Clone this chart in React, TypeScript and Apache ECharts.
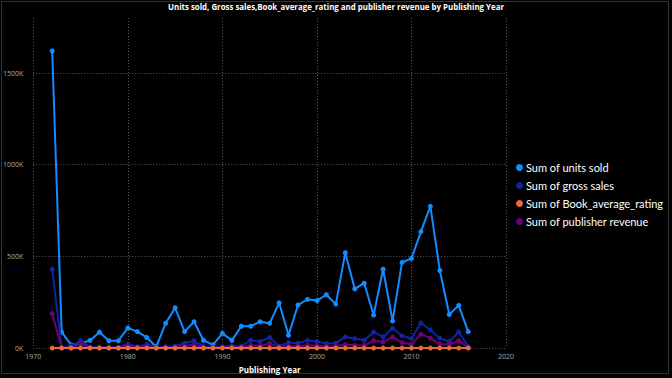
import React, { useEffect, useRef } from "react";
import * as echarts from "echarts";

const years: number[] = [
  1972, 1973, 1974, 1975, 1976, 1977, 1978, 1979, 1980, 1981,
  1982, 1983, 1984, 1985, 1986, 1987, 1988, 1989, 1990, 1991,
  1992, 1993, 1994, 1995, 1996, 1997, 1998, 1999, 2000, 2001,
  2002, 2003, 2004, 2005, 2006, 2007, 2008, 2009, 2010, 2011,
  2012, 2013, 2014, 2015, 2016,
];

const unitsSold: number[] = [
  1620000, 87000, 18000, 25000, 42000, 87000, 40000, 40000, 110000, 90000,
  58000, 7000, 135000, 220000, 90000, 144000, 43000, 18000, 80000, 42000,
  119000, 119000, 144000, 135000, 247000, 70000, 235000, 266000, 259000, 291000,
  240000, 520000, 323000, 354000, 180000, 430000, 148000, 467000, 489000, 635000,
  773000, 423000, 183000, 233000, 90000,
];

const grossSales: number[] = [
  430000, 3000, 12000, 40000, 6000, 5000, 4000, 5000, 22000, 8000,
  20000, 3000, 8000, 10000, 27000, 40000, 10000, 5000, 8000, 12000,
  10000, 43000, 36000, 58000, 10000, 30000, 27000, 42000, 36000, 25000,
  27000, 61000, 52000, 43000, 87000, 61000, 108000, 67000, 52000, 137000,
  99000, 54000, 36000, 88000, 8000,
];

const bookAvgRating: number[] = [
  4.1, 8.2, 3.9, 12.4, 8.0, 11.9, 7.8, 8.3, 24.6, 16.2,
  20.1, 4.0, 15.8, 19.7, 31.5, 35.9, 12.1, 8.0, 16.3, 20.2,
  24.0, 39.8, 44.1, 56.3, 28.2, 48.0, 52.4, 64.1, 60.3, 56.0,
  64.5, 96.2, 88.1, 92.7, 120.3, 112.5, 140.8, 128.1, 136.4, 180.2,
  176.9, 132.0, 104.6, 116.3, 24.1,
];

const publisherRevenue: number[] = [
  188000, 1000, 3000, 22000, 2000, 2000, 2000, 2000, 10000, 3000,
  8000, 1000, 3000, 4000, 12000, 18000, 4000, 2000, 3000, 5000,
  4000, 15000, 12000, 25000, 4000, 12000, 10000, 15000, 13000, 9000,
  10000, 20000, 16000, 14000, 40000, 33000, 60000, 30000, 20000, 76000,
  54000, 22000, 20000, 40000, 3000,
];

const seriesNames: string[] = [
  "Sum of units sold",
  "Sum of gross sales",
  "Sum of Book_average_rating",
  "Sum of publisher revenue",
];
const seriesColors: string[] = ["#118DFF", "#12239E", "#E66C37", "#6B007B"];
const seriesZ: number[] = [2, 3, 5, 4];

const titleText = "Units sold, Gross sales,Book_average_rating and publisher revenue by Publishing Year";
const xTicks: number[] = [1970, 2020, 10];
const yTicks: number[] = [0, 1800000, 500000];

export default function App() {
  const ref = useRef<HTMLDivElement>(null);

  useEffect(() => {
    if (!ref.current) return;
    const chart = echarts.init(ref.current, null, { renderer: "svg" });
    const allData = [unitsSold, grossSales, bookAvgRating, publisherRevenue];
    chart.setOption({
      animation: false,
      backgroundColor: "#000",
      legend: {
        orient: "vertical",
        left: 511,
        top: 156,
        itemWidth: 7,
        itemHeight: 7,
        itemGap: 5,
        icon: "circle",
        data: seriesNames,
        textStyle: {
          color: "#fff",
          fontSize: 11,
          lineHeight: 13,
          fontFamily: "Lato, 'Open Sans', sans-serif",
          padding: [0, 0, 0, -2],
        },
      },
      grid: { left: 33, right: 166, top: 18, bottom: 28, containLabel: false },
      xAxis: {
        type: "value",
        min: xTicks[0],
        max: xTicks[1],
        interval: xTicks[2],
        name: "Publishing Year",
        nameLocation: "middle",
        nameGap: 16,
        nameTextStyle: { color: "#fff", fontSize: 8, fontWeight: "bold", fontFamily: "'Open Sans', sans-serif" },
        axisLine: { show: false },
        axisTick: { show: false },
        axisLabel: {
          color: "#aaa",
          fontSize: 7,
          margin: 5,
          fontFamily: "'Open Sans', sans-serif",
          formatter: (v: number) => String(v),
        },
        splitLine: { show: true, lineStyle: { color: "#5a5a5a", type: [1, 2] as any, width: 1 } },
      },
      yAxis: {
        type: "value",
        min: yTicks[0],
        max: yTicks[1],
        interval: yTicks[2],
        axisLine: { show: false },
        axisTick: { show: false },
        axisLabel: {
          color: "#aaa",
          fontSize: 7,
          margin: 10,
          fontFamily: "'Open Sans', sans-serif",
          formatter: (v: number) => (v % yTicks[2] === 0 ? v / 1000 + "K" : ""),
        },
        splitLine: {
          show: true,
          lineStyle: { color: ["#5a5a5a", "#5a5a5a", "#5a5a5a", "#5a5a5a", "transparent"], type: [1, 2] as any, width: 1 },
        },
      },
      series: seriesNames.map((name, i) => ({
        name,
        type: "line",
        data: years.map((y, j) => [y, allData[i][j]]),
        symbol: "circle",
        symbolSize: 5,
        lineStyle: { width: 2, color: seriesColors[i] },
        itemStyle: { color: seriesColors[i] },
        z: seriesZ[i],
      })),
      graphic: [
        {
          type: "rect",
          shape: { x: 1.5, y: 1.5, width: 667, height: 372 },
          style: { fill: "none", stroke: "#666", lineWidth: 1, lineDash: [1, 1] },
          silent: true,
        },
        {
          type: "group",
          x: 336,
          y: 7,
          scaleX: 0.83,
          children: [
            {
              type: "text",
              style: {
                text: titleText,
                x: 0,
                y: 0,
                align: "center",
                verticalAlign: "middle",
                fill: "#fff",
                fontSize: 9.5,
                fontWeight: "bold",
                fontFamily: "'Open Sans', sans-serif",
              },
            },
          ],
        },
      ],
    });
    return () => chart.dispose();
  }, []);

  return (
    <div
      ref={ref}
      style={{ position: "fixed", left: 0, top: 0, width: 672, height: 378, background: "#000" }}
    />
  );
}
